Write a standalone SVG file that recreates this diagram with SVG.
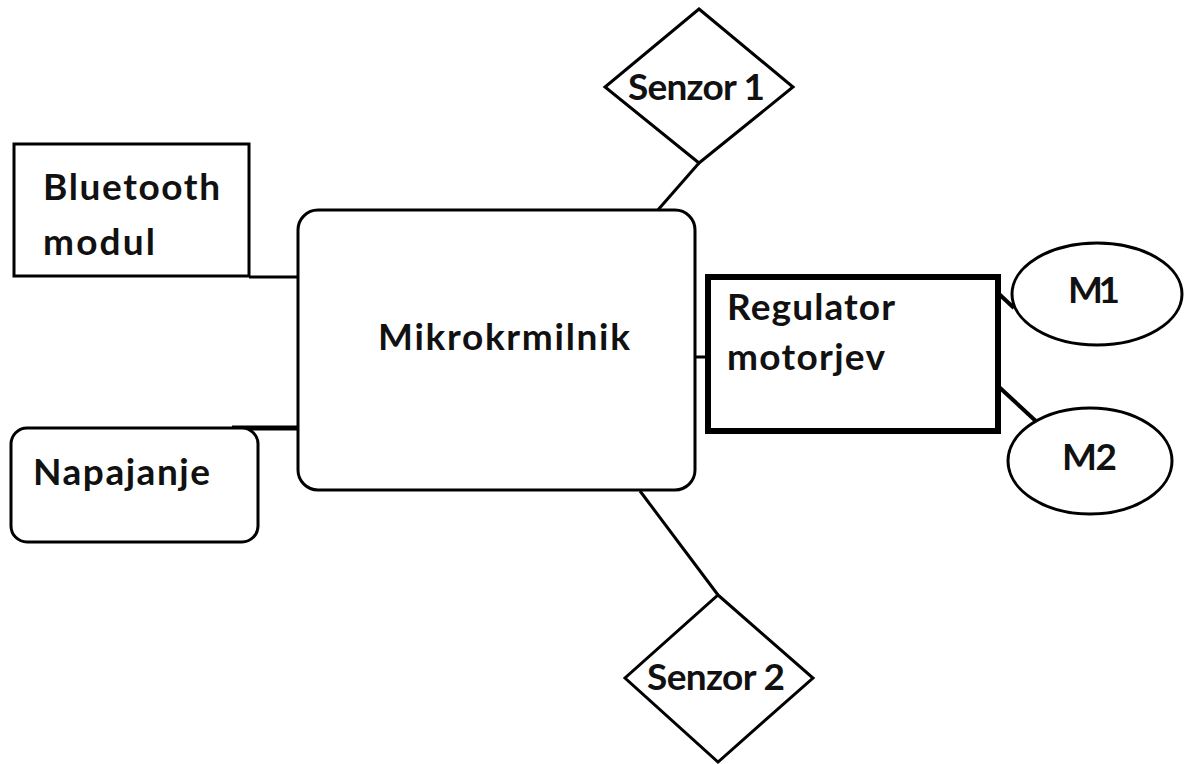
<svg xmlns="http://www.w3.org/2000/svg" width="1193" height="764" viewBox="0 0 1193 764">
<style>
.s{fill:#fff;stroke:#000;stroke-width:3}
.t{font-family:Lato,"Liberation Sans",sans-serif;font-weight:bold;font-size:37px;fill:#111}
.c{stroke:#000;stroke-width:3;fill:none}
</style>
<rect width="1193" height="764" fill="#fff"/>
<g id="connectors">
<line class="c" x1="249" y1="277" x2="300" y2="277"/>
<line class="c" x1="232" y1="428" x2="300" y2="428" style="stroke-width:5"/>
<line class="c" x1="699" y1="163" x2="657" y2="211"/>
<line class="c" x1="690" y1="357" x2="707" y2="357"/>
<line class="c" x1="640" y1="491" x2="718" y2="595"/>
<line class="c" x1="999" y1="294" x2="1014" y2="308" style="stroke-width:4"/>
<line class="c" x1="999" y1="387" x2="1039" y2="424" style="stroke-width:4"/>
</g>
<g id="bluetooth">
<rect class="s" x="14" y="144" width="235" height="132"/>
<text class="t" x="43" y="200" textLength="177">Bluetooth</text>
<text class="t" x="43" y="255" textLength="112">modul</text>
</g>
<g id="napajanje">
<rect class="s" x="11" y="428" width="247" height="114" rx="16"/>
<text class="t" x="33" y="485" textLength="177">Napajanje</text>
</g>
<g id="mikrokrmilnik">
<rect class="s" x="298" y="210" width="397" height="280" rx="20"/>
<text class="t" x="378" y="350" textLength="252">Mikrokrmilnik</text>
</g>
<g id="senzor1">
<polygon class="s" points="699,9 793,87 699,163 605,87"/>
<text class="t" x="628" y="100" textLength="137">Senzor 1</text>
</g>
<g id="senzor2">
<polygon class="s" points="718,595 813,678 718,762 625,678"/>
<text class="t" x="647" y="690" textLength="138">Senzor 2</text>
</g>
<g id="regulator">
<rect class="s" x="708" y="277" width="290" height="154" style="stroke-width:6"/>
<text class="t" x="727" y="320" textLength="168">Regulator</text>
<text class="t" x="727" y="370" textLength="158">motorjev</text>
</g>
<g id="m1">
<ellipse class="s" cx="1097" cy="294" rx="85" ry="51"/>
<text class="t" x="1068" y="303" textLength="52">M1</text>
</g>
<g id="m2">
<ellipse class="s" cx="1090" cy="461" rx="82" ry="53"/>
<text class="t" x="1062" y="470" textLength="55">M2</text>
</g>
</svg>
